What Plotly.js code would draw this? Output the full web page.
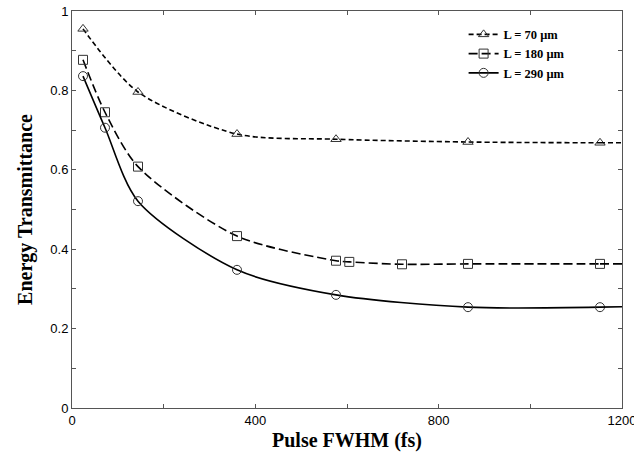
<!DOCTYPE html>
<html>
<head>
<meta charset="utf-8">
<script src="https://cdn.plot.ly/plotly-3.0.1.min.js"></script>
<style>html,body{margin:0;padding:0;background:#fff;}#chart{width:634px;height:460px;}</style>
</head>
<body>
<div id="chart"></div>
<script>
// Pulse FWHM (fs) at measured points
const fwhm70 = [24, 144, 360, 576, 864, 1152];
const trans70 = [0.955, 0.796, 0.690, 0.677, 0.670, 0.668];
const fwhm180 = [24, 72, 144, 360, 576, 605, 720, 864, 1152];
const trans180 = [0.877, 0.745, 0.608, 0.433, 0.371, 0.368, 0.362, 0.363, 0.363];
const fwhm290 = [24, 72, 144, 360, 576, 864, 1152];
const trans290 = [0.836, 0.706, 0.521, 0.348, 0.285, 0.254, 0.254];
// curve end values at the right edge
const endX = 1200;
const end70 = 0.668, end180 = 0.363, end290 = 0.255;
const names = ['L = 70 \u03bcm', 'L = 180 \u03bcm', 'L = 290 \u03bcm'];

const serif = 'Liberation Serif, Times New Roman, serif';
function main(x, y, name, sym, dash) {
  return {
    x: x, y: y, mode: 'lines+markers', name: name, legendgroup: name,
    line: {color: '#000', width: 1.6, dash: dash, shape: 'spline', smoothing: 0.8},
    marker: {symbol: sym, size: 9, color: '#333', line: {color: '#333', width: 1}}
  };
}
function tail(x, y, endY, name, dash) {
  return {
    x: [x[x.length - 1], endX], y: [y[y.length - 1], endY],
    mode: 'lines', name: name, legendgroup: name, showlegend: false,
    line: {color: '#000', width: 1.6, dash: dash}
  };
}
const traces = [
  main(fwhm70, trans70, names[0], 'triangle-up-open', '5px,3px'),
  main(fwhm180, trans180, names[1], 'square-open', '9px,4px'),
  main(fwhm290, trans290, names[2], 'circle-open', 'solid'),
  tail(fwhm70, trans70, end70, names[0], '5px,3px'),
  tail(fwhm180, trans180, end180, names[1], '9px,4px'),
  tail(fwhm290, trans290, end290, names[2], 'solid')
];

const axisCommon = {
  showline: true, linecolor: '#555', linewidth: 1, mirror: 'ticks',
  ticks: 'inside', ticklen: 4, tickcolor: '#555', showgrid: false, zeroline: false,
  ticklabeloverflow: 'allow',
  tickfont: {family: 'Liberation Sans, Arial, sans-serif', size: 13, color: '#000'}
};
const layout = {
  width: 634, height: 460,
  margin: {l: 72, r: 12, t: 11, b: 52},
  paper_bgcolor: '#fff', plot_bgcolor: '#fff',
  showlegend: true,
  legend: {x: 0.712, y: 0.978, xanchor: 'left', yanchor: 'top', bgcolor: 'rgba(0,0,0,0)',
           font: {family: serif, size: 12.5, color: '#000', weight: 'bold'},
           tracegroupgap: 0},
  xaxis: Object.assign({}, axisCommon, {
    range: [0, 1200], tickvals: [0, 200, 400, 600, 800, 1000, 1200],
    ticktext: ['0', '', '400', '', '800', '', '1200'],
    title: {text: '<b>Pulse FWHM (fs)</b>', font: {family: serif, size: 20, color: '#000'}, standoff: 6}
  }),
  yaxis: Object.assign({}, axisCommon, {
    range: [0, 1], tickvals: [0, 0.1, 0.2, 0.3, 0.4, 0.5, 0.6, 0.7, 0.8, 0.9, 1],
    ticktext: ['0', '', '0.2', '', '0.4', '', '0.6', '', '0.8', '', '1'],
    title: {text: '<b>Energy Transmittance</b>', font: {family: serif, size: 20, color: '#000'}, standoff: 12}
  })
};
Plotly.newPlot('chart', traces, layout, {displayModeBar: false, staticPlot: true});
</script>
</body>
</html>
